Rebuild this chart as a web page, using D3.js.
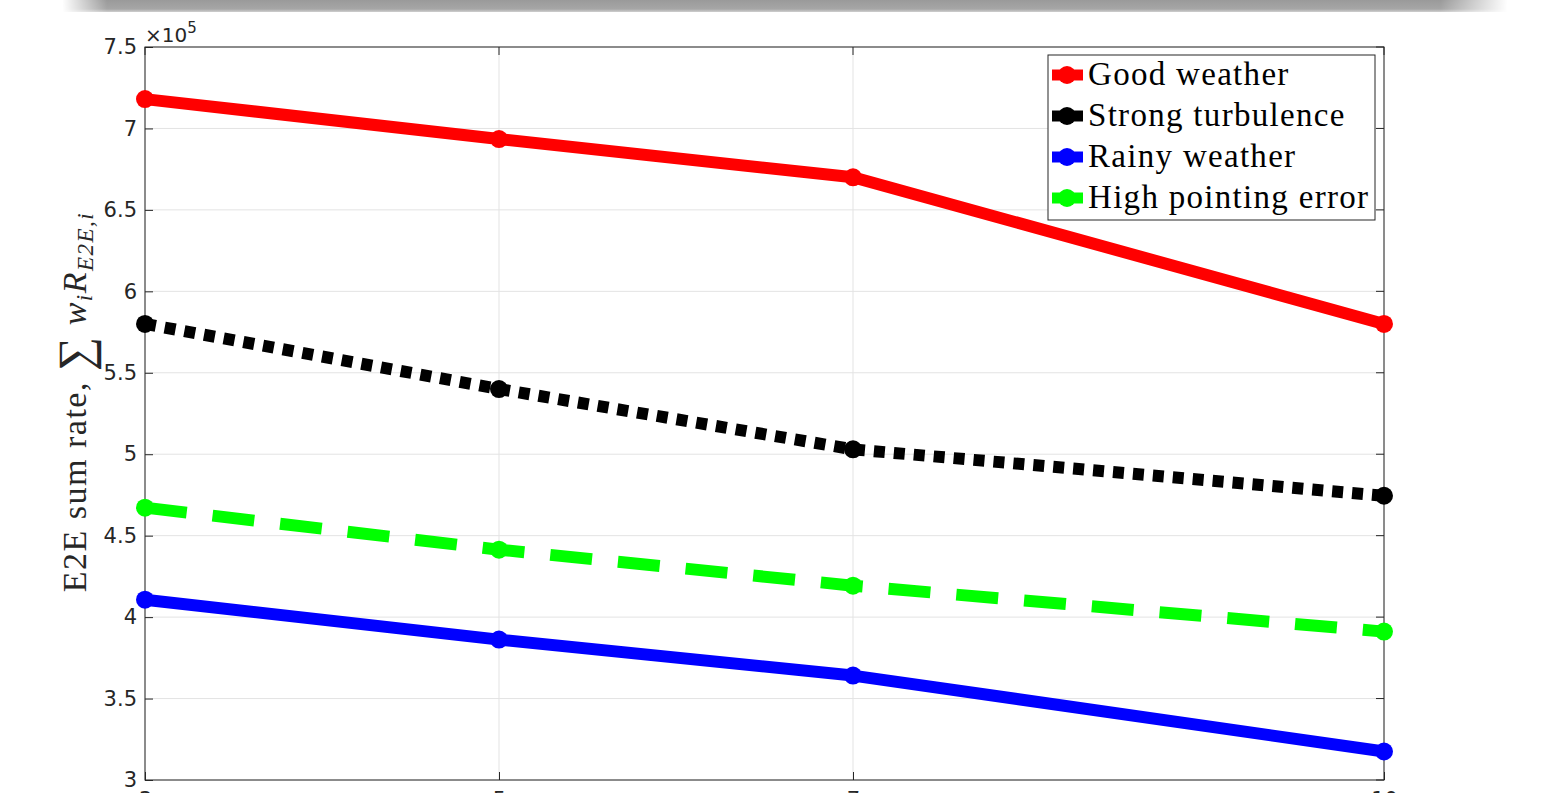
<!DOCTYPE html>
<html><head><meta charset="utf-8">
<script src="https://cdn.jsdelivr.net/npm/d3@7"></script>
<style>html,body{margin:0;padding:0;background:#fff;overflow:hidden}</style>
</head><body>
<svg id="c" width="1568" height="793"></svg>
<script>
const xValues = [3, 5, 7, 10];
const xTicks = [3, 5, 7, 10];
const yTicks = [3, 3.5, 4, 4.5, 5, 5.5, 6, 6.5, 7, 7.5];
const seriesNames = ["Good weather", "Strong turbulence", "Rainy weather", "High pointing error"];
const goodWeather = [7.18, 6.935, 6.70, 5.80];
const strongTurbulence = [5.80, 5.40, 5.03, 4.745];
const rainyWeather = [4.107, 3.862, 3.641, 3.175];
const highPointingError = [4.672, 4.414, 4.193, 3.911];
const colors = ["#ff0000", "#000000", "#0000ff", "#00ff00"];
const dashes = [null, "11,9", null, "42,26"];

const svg = d3.select("#c");
const L = 145, R = 1384, T = 47, B = 780;
const x = d3.scaleLinear().domain([3, 10]).range([L, R]);
const y = d3.scaleLinear().domain([3, 7.5]).range([B, T]);

// top grey band
const defs = svg.append("defs");
const g1 = defs.append("linearGradient").attr("id","band").attr("x1",0).attr("x2",1);
[[0,0],[0.015,0],[0.045,1],[0.94,1],[0.985,0],[1,0]].forEach(([o,a])=>g1.append("stop").attr("offset",o).attr("stop-color","#fff").attr("stop-opacity",a));
const g2 = defs.append("linearGradient").attr("id","bandv").attr("x1",0).attr("x2",0).attr("y1",0).attr("y2",1);
[[0,"#9a9a9a"],[0.75,"#a6a6a6"],[1,"#cfcfcf"]].forEach(([o,c])=>g2.append("stop").attr("offset",o).attr("stop-color",c));
const m = defs.append("mask").attr("id","bm");
m.append("rect").attr("x",40).attr("y",0).attr("width",1490).attr("height",14).attr("fill","url(#band)");
svg.append("rect").attr("x",40).attr("y",0).attr("width",1490).attr("height",12).attr("fill","url(#bandv)").attr("mask","url(#bm)");

// grid
const grid = svg.append("g").attr("stroke","#e3e3e3").attr("stroke-width",1);
yTicks.forEach(t=>grid.append("line").attr("x1",L).attr("x2",R).attr("y1",y(t)).attr("y2",y(t)));
xTicks.forEach(t=>grid.append("line").attr("x1",x(t)).attr("x2",x(t)).attr("y1",T).attr("y2",B));

// axes
const yAxis = svg.append("g").attr("transform",`translate(${L},0)`).call(d3.axisLeft(y).tickValues(yTicks).tickSize(-8).tickPadding(8).tickFormat(d3.format("")));
const xAxis = svg.append("g").attr("transform",`translate(0,${B})`).call(d3.axisBottom(x).tickValues(xTicks).tickSize(-8).tickPadding(12).tickFormat(d3.format("d")));
[yAxis,xAxis].forEach(a=>{a.select(".domain").remove();a.selectAll("line").attr("stroke","#262626");a.selectAll("text").attr("fill","#262626").attr("font-family","DejaVu Sans").attr("font-size",21);});
svg.append("rect").attr("x",L).attr("y",T).attr("width",R-L).attr("height",B-T).attr("fill","none").attr("stroke","#262626").attr("stroke-width",1);
// top/right ticks
const tk = svg.append("g").attr("stroke","#262626");
yTicks.forEach(t=>tk.append("line").attr("x1",R).attr("x2",R-8).attr("y1",y(t)).attr("y2",y(t)));
xTicks.forEach(t=>tk.append("line").attr("x1",x(t)).attr("x2",x(t)).attr("y1",T).attr("y2",T+8));

// exponent
const ex = svg.append("text").attr("x",145).attr("y",42).attr("font-family","DejaVu Sans").attr("font-size",20).attr("fill","#262626");
ex.append("tspan").text("×10");
ex.append("tspan").attr("dy",-9).attr("font-size",15).text("5");

// y label
const yl = svg.append("text").attr("transform","translate(86,402) rotate(-90)").attr("text-anchor","middle").attr("font-family","Liberation Serif").attr("font-size",34).attr("letter-spacing",1.5).attr("fill","#262626");
yl.append("tspan").text("E2E sum rate, ");
yl.append("tspan").attr("font-size",48).attr("dy",5).text("∑");
yl.append("tspan").attr("font-style","italic").attr("dy",-5).text(" w");
yl.append("tspan").attr("font-style","italic").attr("font-size",23).attr("dy",6).text("i");
yl.append("tspan").attr("font-style","italic").attr("dy",-6).text("R");
yl.append("tspan").attr("font-style","italic").attr("font-size",23).attr("dy",7).text("E2E,i");

// series
const all = [goodWeather, strongTurbulence, rainyWeather, highPointingError];
const line = d3.line().x((d,i)=>x(xValues[i])).y(d=>y(d));
const drawOrder = [0,1,3,2];
drawOrder.forEach(k=>{
  const g = svg.append("g");
  g.append("path").attr("d",line(all[k])).attr("fill","none").attr("stroke",colors[k]).attr("stroke-width",12)
   .attr("stroke-dasharray",dashes[k]).attr("stroke-linecap","butt").attr("stroke-linejoin","round");
  g.selectAll("circle").data(all[k]).join("circle").attr("cx",(d,i)=>x(xValues[i])).attr("cy",d=>y(d)).attr("r",9).attr("fill",colors[k]);
});

// legend
const lg = svg.append("g");
lg.append("rect").attr("x",1048).attr("y",55).attr("width",327).attr("height",165).attr("fill","#fff").attr("stroke","#262626").attr("stroke-width",1);
seriesNames.forEach((n,i)=>{
  const yy = 75 + i*41;
  lg.append("line").attr("x1",1052).attr("x2",1083).attr("y1",yy).attr("y2",yy).attr("stroke",colors[i]).attr("stroke-width",11);
  lg.append("circle").attr("cx",1067).attr("cy",yy).attr("r",9).attr("fill",colors[i]);
  lg.append("text").attr("x",1088).attr("y",yy+10).attr("font-family","Liberation Serif").attr("font-size",33).attr("letter-spacing",1.3).attr("fill","#000").text(n);
});
</script>
</body></html>
